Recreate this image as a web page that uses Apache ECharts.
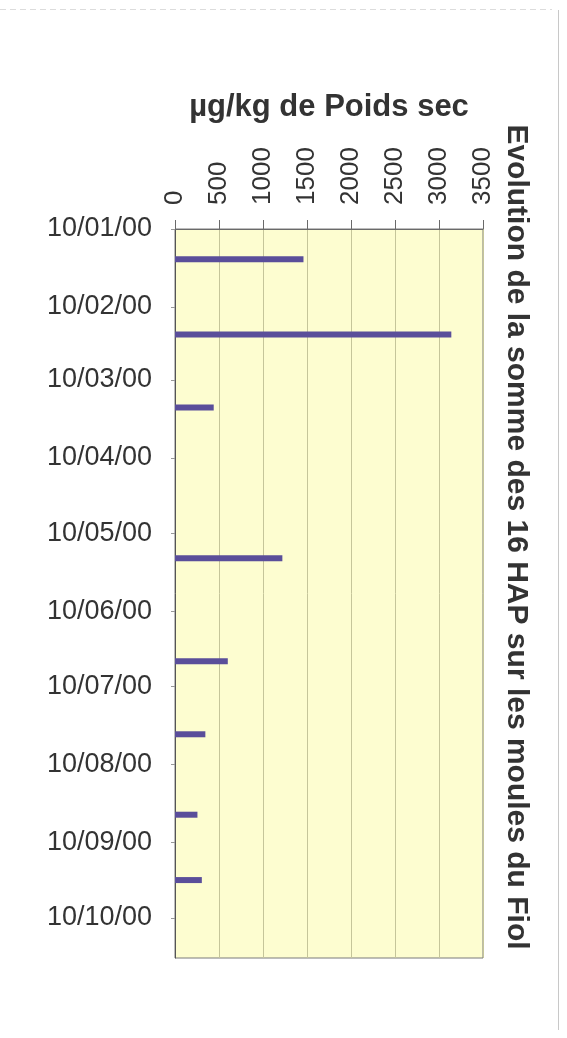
<!DOCTYPE html>
<html>
<head>
<meta charset="utf-8">
<script src="https://cdn.jsdelivr.net/npm/echarts@6/dist/echarts.min.js"></script>
<style>
  html, body { margin: 0; padding: 0; background: #ffffff; }
  #chart { width: 567px; height: 1038px; }
</style>
</head>
<body>
<div id="chart"></div>
<script>
// Sampling dates (dd/mm/yy) and the sum of the 16 PAHs, µg/kg dry weight
const sampleDates = ['2000-01-22', '2000-02-21', '2000-03-21', '2000-05-20',
                     '2000-06-30', '2000-07-29', '2000-08-30', '2000-09-25'];
const hapSum = [1460, 3140, 440, 1220, 600, 345, 255, 305];

// Date axis: labelled on the 10th of each month
const dateTicks = ['2000-01-10', '2000-02-10', '2000-03-10', '2000-04-10', '2000-05-10',
                   '2000-06-10', '2000-07-10', '2000-08-10', '2000-09-10', '2000-10-10'];
const dateMin = '2000-01-10';
const dateMax = '2000-10-26';

// Value axis
const valueMin = 0;
const valueMax = 3500;
const valueStep = 500;

const titleText = 'Evolution de la somme des 16 HAP sur les moules du Fiol';
const unitText = 'µg/kg de Poids sec';

// Dates are handled as day numbers (UTC) on a plain value axis
function toDay(s) {
  const p = s.split('-').map(Number);
  return Date.UTC(p[0], p[1] - 1, p[2]) / 86400000;
}
function pad(n) { return (n < 10 ? '0' : '') + n; }
function fmtDay(v) {
  const d = new Date(Math.round(v) * 86400000);
  return pad(d.getUTCDate()) + '/' + pad(d.getUTCMonth() + 1) + '/' + pad(d.getUTCFullYear() % 100);
}

const FONT = '"Liberation Sans", Arial, sans-serif';
const TEXT = '#333333';
const BAR_COLOR = '#5a4e9a';
const BAR_THICKNESS = 6;

const chart = echarts.init(document.getElementById('chart'), null, { renderer: 'canvas' });

chart.setOption({
  animation: false,
  backgroundColor: '#ffffff',
  grid: {
    left: 175, right: 84, top: 229, bottom: 80,
    show: true,
    backgroundColor: '#fdfdd0',
    borderColor: '#7a7a7a',
    borderWidth: 1
  },
  xAxis: {
    type: 'value',
    position: 'top',
    min: valueMin, max: valueMax, interval: valueStep,
    name: unitText,
    nameLocation: 'middle',
    nameGap: 106,
    nameTextStyle: { fontFamily: FONT, fontSize: 31, fontWeight: 'bold', color: TEXT },
    axisLine: { show: true, lineStyle: { color: '#6a6a6a', width: 1 } },
    axisTick: { show: true, inside: false, length: 9, lineStyle: { color: '#6a6a6a' } },
    axisLabel: {
      rotate: -90, margin: 24,
      formatter: v => String(v),
      fontFamily: FONT, fontSize: 26, color: TEXT
    },
    splitLine: { show: true, lineStyle: { color: '#c5c59a', width: 1 } }
  },
  yAxis: {
    type: 'value',
    inverse: true,
    min: toDay(dateMin), max: toDay(dateMax),
    axisLine: { show: true, lineStyle: { color: '#555555', width: 1 } },
    axisTick: {
      show: true, length: 4,
      customValues: dateTicks.map(toDay),
      lineStyle: { color: '#999999' }
    },
    axisLabel: {
      customValues: dateTicks.map(toDay),
      formatter: fmtDay,
      margin: 23,
      fontFamily: FONT, fontSize: 27, color: TEXT
    },
    splitLine: { show: false }
  },
  series: [{
    // horizontal bars from 0 to the value, centred on the sampling date
    type: 'custom',
    encode: { x: 0, y: 1 },
    data: sampleDates.map((d, i) => [hapSum[i], toDay(d)]),
    renderItem: function (params, api) {
      const start = api.coord([0, api.value(1)]);
      const end = api.coord([api.value(0), api.value(1)]);
      return {
        type: 'rect',
        shape: {
          x: start[0], y: start[1] - BAR_THICKNESS / 2,
          width: end[0] - start[0], height: BAR_THICKNESS
        },
        style: { fill: BAR_COLOR }
      };
    }
  }],
  graphic: [
    {
      type: 'text',
      x: 516, y: 537,
      rotation: -Math.PI / 2,
      style: {
        text: titleText,
        fontFamily: FONT, fontSize: 30, fontWeight: 'bold',
        fill: TEXT,
        align: 'center', verticalAlign: 'middle'
      }
    },
    {
      type: 'line',
      shape: { x1: 558.5, y1: 10, x2: 558.5, y2: 1030 },
      style: { stroke: '#c8c8c8', lineWidth: 1 }
    },
    {
      type: 'line',
      shape: { x1: 0, y1: 9.5, x2: 552, y2: 9.5 },
      style: { stroke: '#dcdcdc', lineWidth: 1, lineDash: [6, 4] }
    }
  ]
});
</script>
</body>
</html>
